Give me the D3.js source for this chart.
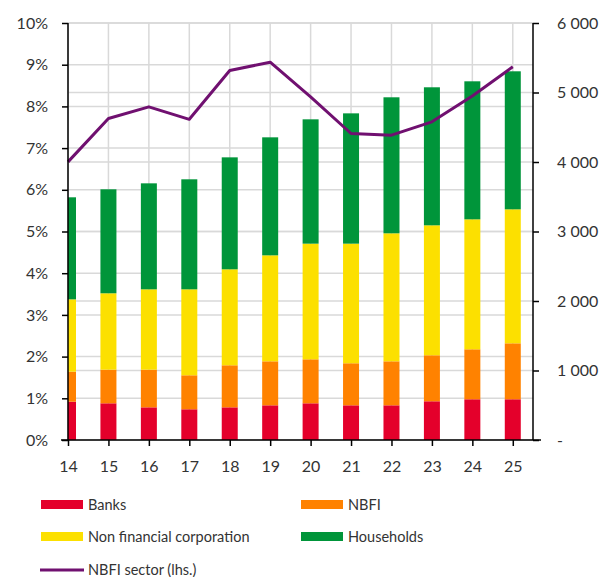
<!DOCTYPE html>
<html><head><meta charset="utf-8">
<script src="https://cdn.jsdelivr.net/npm/d3@7"></script>
<style>body{margin:0;background:#fff;} text{font-family:Lato,"Open Sans",sans-serif;}</style>
</head><body><svg id="c" width="611" height="577"></svg>
<script>
const years = [14,15,16,17,18,19,20,21,22,23,24,25];
const banks = [551,528,470,442,470,499,528,499,499,557,586,586];
const nbfi = [432,484,542,489,605,633,633,605,633,662,719,805];
const nonFinCorp = [1041,1099,1156,1237,1381,1525,1664,1721,1842,1870,1870,1928];
const households = [1468,1496,1525,1583,1611,1698,1789,1875,1957,1986,1986,1986];
const nbfiSector = [6.67,7.71,7.99,7.69,8.86,9.06,8.23,7.35,7.31,7.63,8.25,8.95];
const leftTicks = [0,1,2,3,4,5,6,7,8,9,10];
const rightTicks = [0,1000,2000,3000,4000,5000,6000];
const seriesNames = ["Banks","NBFI","Non financial corporation","Households"];
const colors = ["#e4002b","#ff8200","#fce000","#00953a"];
const lineColor = "#701070";

const svg = d3.select("#c");
const L = 68, R = 533, T = 23, B = 440;
const x = d3.scaleLinear().domain([14, 25.5]).range([L, R]);
const yL = d3.scaleLinear().domain([0, 10]).range([B, T]);
const yR = d3.scaleLinear().domain([0, 6000]).range([B, T]);

const grid = svg.append("g").attr("stroke","#d9d9d9").attr("stroke-width",1.5);
leftTicks.forEach(t=>grid.append("line").attr("x1",L).attr("x2",R).attr("y1",yL(t)).attr("y2",yL(t)));
rightTicks.forEach(t=>grid.append("line").attr("x1",L).attr("x2",R).attr("y1",yR(t)).attr("y2",yR(t)));
years.forEach(t=>grid.append("line").attr("x1",x(t)).attr("x2",x(t)).attr("y1",T).attr("y2",B));

svg.append("clipPath").attr("id","clip").append("rect").attr("x",L).attr("y",0).attr("width",R-L).attr("height",B);

const rows = years.map((y,i)=>({year:y, s0:banks[i], s1:nbfi[i], s2:nonFinCorp[i], s3:households[i]}));
const stacked = d3.stack().keys(["s0","s1","s2","s3"])(rows);
const bw = 16;
const bars = svg.append("g").attr("clip-path","url(#clip)");
stacked.forEach((layer,k)=>{
  bars.selectAll(null).data(layer).enter().append("rect")
    .attr("x",d=>x(d.data.year)-bw/2).attr("width",bw)
    .attr("y",d=>yR(d[1])).attr("height",d=>yR(d[0])-yR(d[1]))
    .attr("fill",colors[k]);
});

svg.append("path").datum(nbfiSector)
  .attr("fill","none").attr("stroke",lineColor).attr("stroke-width",3).attr("stroke-linejoin","round")
  .attr("d", d3.line().x((d,i)=>x(years[i])).y(d=>yL(d)));

const axStyle = g=>{g.select(".domain").remove(); g.selectAll("line").attr("stroke","#000").attr("stroke-width",1.5);
  g.selectAll("text").attr("fill","#333").style("font-size","16px");};
svg.append("g").attr("transform",`translate(${L},0)`)
  .call(d3.axisLeft(yL).tickValues(leftTicks).tickSize(6).tickPadding(14).tickFormat(d=>d+"%")).call(axStyle);
svg.append("g").attr("transform",`translate(${R},0)`)
  .call(d3.axisRight(yR).tickValues(rightTicks).tickSize(6).tickPadding(18).tickFormat(d=>d===0?"-":d3.format(",")(d).replace(","," "))).call(axStyle);
svg.append("g").attr("transform",`translate(0,${B})`)
  .call(d3.axisBottom(x).tickValues(years).tickSize(6).tickPadding(15).tickFormat(d=>d)).call(axStyle);

svg.append("line").attr("x1",L).attr("x2",L).attr("y1",T).attr("y2",B).attr("stroke","#000").attr("stroke-width",1.5);
svg.append("line").attr("x1",R).attr("x2",R).attr("y1",T).attr("y2",B).attr("stroke","#000").attr("stroke-width",1.5);
svg.append("line").attr("x1",L-7).attr("x2",R+8).attr("y1",B).attr("y2",B).attr("stroke","#000").attr("stroke-width",1.5);

const leg = svg.append("g");
const items = [
  {name:seriesNames[0], c:colors[0], x:41, y:504.5},
  {name:seriesNames[1], c:colors[1], x:301, y:504.5},
  {name:seriesNames[2], c:colors[2], x:41, y:536.5},
  {name:seriesNames[3], c:colors[3], x:301, y:536.5},
  {name:"NBFI sector (lhs.)", c:lineColor, x:41, y:570, line:true}
];
items.forEach(it=>{
  if(it.line) leg.append("rect").attr("x",it.x-1).attr("y",it.y-1.5).attr("width",44).attr("height",3).attr("fill",it.c);
  else leg.append("rect").attr("x",it.x).attr("y",it.y-4.5).attr("width",42).attr("height",9).attr("fill",it.c);
  leg.append("text").attr("x",it.x+47).attr("y",it.y).attr("dy","0.35em").attr("fill","#333").style("font-size","14.5px").text(it.name);
});
</script></body></html>
